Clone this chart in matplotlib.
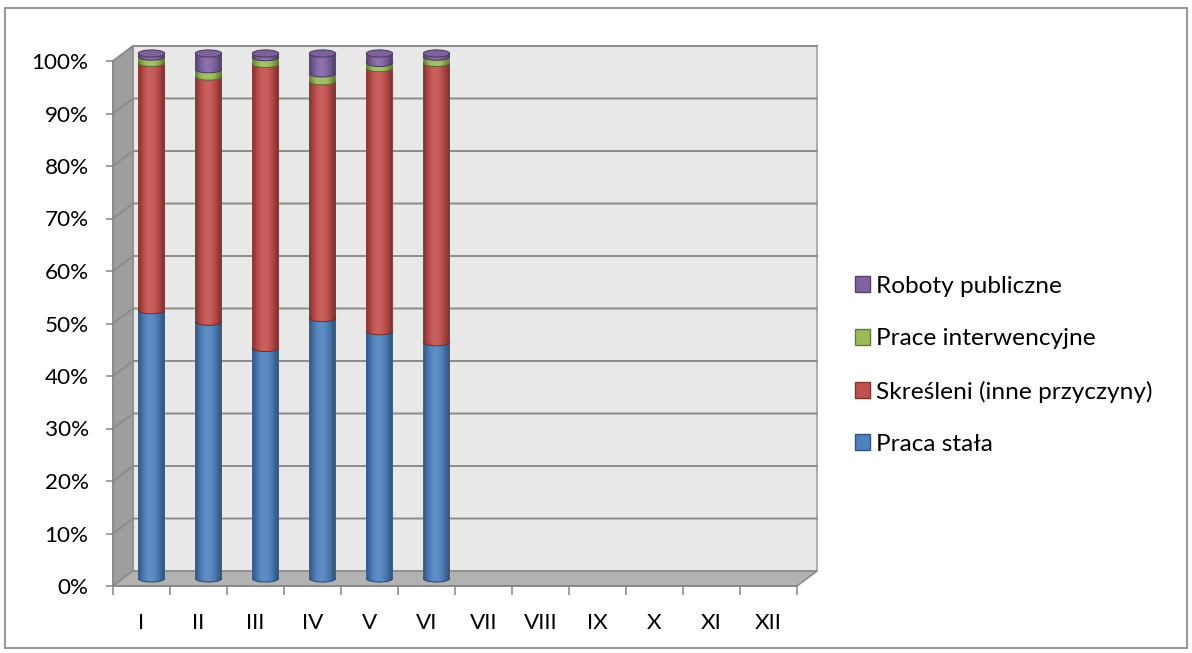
import numpy as np
import matplotlib
matplotlib.use("Agg")
import matplotlib.pyplot as plt
from matplotlib.patches import Polygon, Rectangle, PathPatch, Ellipse, Patch
from matplotlib.path import Path
from matplotlib.colors import to_rgb

# ---------------- data ----------------
months = ["I", "II", "III", "IV", "V", "VI", "VII", "VIII", "IX", "X", "XI", "XII"]
series_names = ["Praca stała", "Skreśleni (inne przyczyny)", "Prace interwencyjne", "Roboty publiczne"]
praca_stala = [51.1, 48.9, 43.9, 49.6, 47.1, 45.0]
skresleni = [47.1, 46.7, 54.1, 45.1, 50.1, 53.2]
prace_interwencyjne = [1.2, 1.4, 1.3, 1.5, 1.0, 1.2]
roboty_publiczne = [0.6, 3.0, 0.7, 3.8, 1.8, 0.6]
y_ticks = [0, 10, 20, 30, 40, 50, 60, 70, 80, 90, 100]
y_tick_labels = [f"{v}%" for v in y_ticks]
series_colors = ["#4F81BD", "#C0504D", "#9BBB59", "#8064A2"]

plt.rcParams['font.family'] = ['Lato', 'DejaVu Sans']
FS = 16.2
FS_LEG = 17.6

W, H = 1192, 653
fig = plt.figure(figsize=(W / 100, H / 100), dpi=100)
fig.patch.set_facecolor("white")


def fig_rect(x0, ytop, x1, ybot):
    return [x0 / W, 1 - ybot / H, (x1 - x0) / W, (ybot - ytop) / H]


def shade(c, f):
    c = np.array(to_rgb(c))
    if f <= 1:
        return tuple(c * f)
    return tuple(c + (1 - c) * (f - 1))


# geometry (pixels)
FX0, FX1 = 113, 797        # front plane x range
FY0, FY1 = 586, 61         # front plane y for 0% / 100%
DX, DY = 20, -15           # depth offset
PPU = (FY0 - FY1) / 100.0  # pixels per percent

# ---------------- background: walls, floor, grid ----------------
bg = fig.add_axes([0, 0, 1, 1])
bg.set_zorder(0)
bg.set_xlim(0, W)
bg.set_ylim(H, 0)
bg.axis("off")

bg.add_patch(Rectangle((5, 8), 1182, 640, fill=False, edgecolor="#8C8C8C", lw=1.3))
back = [(FX0 + DX, FY1 + DY), (FX1 + DX, FY1 + DY), (FX1 + DX, FY0 + DY), (FX0 + DX, FY0 + DY)]
bg.add_patch(Polygon(back, closed=True, facecolor="#E8E8E8", edgecolor="#A6A6A6", lw=1.3))
side = [(FX0, FY1), (FX0 + DX, FY1 + DY), (FX0 + DX, FY0 + DY), (FX0, FY0)]
bg.add_patch(Polygon(side, closed=True, facecolor="#9E9E9E", edgecolor="#8A8A8A", lw=1.0))
floor = [(FX0, FY0), (FX0 + DX, FY0 + DY), (FX1 + DX, FY0 + DY), (FX1, FY0)]
bg.add_patch(Polygon(floor, closed=True, facecolor="#B2B2B2", edgecolor="#8C8C8C", lw=1.2))
for v in y_ticks[1:]:
    yf = FY0 - v * PPU
    yb = yf + DY
    bg.plot([FX0, FX0 + DX, FX1 + DX], [yf, yb, yb], color="#8C8C8C", lw=1.4,
            solid_joinstyle="miter")

# ---------------- front axis: ticks and labels ----------------
fa = fig.add_axes(fig_rect(FX0, FY1, FX1, FY0))
fa.set_zorder(1)
fa.patch.set_alpha(0)
fa.set_xlim(0, 12)
fa.set_ylim(0, 100)
for s in ["top", "right"]:
    fa.spines[s].set_visible(False)
for s in ["left", "bottom"]:
    fa.spines[s].set_color("#868686")
    fa.spines[s].set_linewidth(1.1)
fa.set_yticks(y_ticks)
fa.set_yticklabels(y_tick_labels)
fa.set_xticks(np.arange(13))
fa.set_xticklabels([])
fa.set_xticks(np.arange(12) + 0.5, minor=True)
fa.set_xticklabels(months, minor=True)
fa.tick_params(axis="y", length=5, width=1.1, color="#868686", pad=12.5,
               labelsize=FS, labelcolor="black")
fa.tick_params(axis="x", which="major", length=6.5, width=1.1, color="#868686")
fa.tick_params(axis="x", which="minor", length=0, pad=19.5, labelsize=FS, labelcolor="black")

# ---------------- bars (cylinders), mid-depth plane ----------------
YLO, YHI = -3, 103
ax = fig.add_axes(fig_rect(FX0 + DX / 2, FY1 + DY / 2 - (YHI - 100) * PPU,
                           FX1 + DX / 2, FY0 + DY / 2 - YLO * PPU))
ax.set_zorder(2)
ax.patch.set_alpha(0)
ax.axis("off")

stack = [praca_stala, skresleni, prace_interwencyjne, roboty_publiczne]
n = len(praca_stala)
xc = np.arange(n) + 0.5
BW = 0.46
EH = 1.35
N = 80
t = (np.arange(N) + 0.5) / N
prof = 0.58 + 0.52 * np.sin(np.pi * t ** 0.9)
theta = np.linspace(np.pi, 2 * np.pi, 48)
bottoms = np.zeros(n)
for s, (vals, col) in enumerate(zip(stack, series_colors)):
    vals = np.array(vals, dtype=float)
    z = 2 + s
    bars = ax.bar(xc, vals, width=BW, bottom=bottoms, color=col, linewidth=0, zorder=z)
    grad = np.array([[shade(col, f) for f in prof]])
    for i, rect in enumerate(bars):
        x0, x1 = xc[i] - BW / 2, xc[i] + BW / 2
        b = bottoms[i]
        tp = b + vals[i]
        arc = np.column_stack([xc[i] + BW / 2 * np.cos(theta), b + EH / 2 * np.sin(theta)])
        verts = np.vstack([[x0, tp], arc, [x1, tp], [x0, tp]])
        clip = PathPatch(Path(verts, closed=True), transform=ax.transData,
                         facecolor="none", edgecolor="none")
        im = ax.imshow(grad, extent=(x0, x1, b - EH / 2, tp), aspect="auto",
                       interpolation="bilinear", zorder=z)
        im.set_clip_path(clip)
        ax.plot(arc[:, 0], arc[:, 1], color=shade(col, 0.55), lw=0.7, zorder=z)
    bottoms = bottoms + vals

top_col = series_colors[-1]
for i in range(n):
    ax.add_patch(Ellipse((xc[i], bottoms[i]), BW, EH, facecolor=shade(top_col, 0.97),
                         edgecolor=shade(top_col, 0.6), lw=0.8, zorder=10))

ax.set_xlim(0, 12)
ax.set_ylim(YLO, YHI)

# ---------------- legend ----------------
handles = [Patch(facecolor=c, edgecolor=shade(c, 0.65), lw=1.0) for c in series_colors]
leg = fig.legend(handles[::-1], series_names[::-1], loc="center left",
                 bbox_to_anchor=(855 / W, 1 - 365.5 / H), bbox_transform=fig.transFigure,
                 frameon=False, fontsize=FS_LEG, handlelength=0.62, handleheight=0.62,
                 handletextpad=0.22, labelspacing=1.28, borderpad=0, borderaxespad=0)

fig.savefig("out.png", dpi=100)
